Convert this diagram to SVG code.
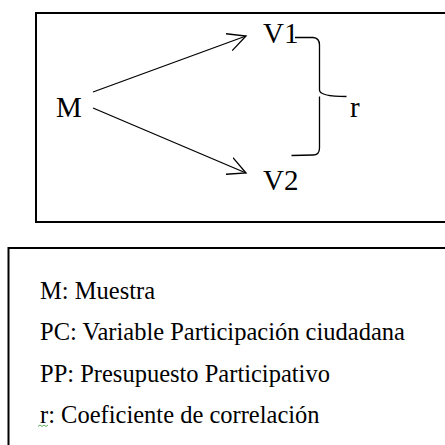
<svg xmlns="http://www.w3.org/2000/svg" width="445" height="445" viewBox="0 0 445 445">
<defs>
<style>
.box{fill:none;stroke:#000;stroke-width:2}
.ln{fill:none;stroke:#000;stroke-width:1.3}
text{fill:#000}
.lbl{font-family:"Liberation Serif",serif;font-size:29px}
.leg{font-family:"Liberation Serif",serif;font-size:24.5px}
</style>
<marker id="open" viewBox="0 0 20 20" refX="18" refY="10" markerWidth="20" markerHeight="20" markerUnits="userSpaceOnUse" orient="auto">
<path d="M0,1 L18,10 L0,19" fill="none" stroke="#000" stroke-width="1.3"/>
</marker>
</defs>
<rect class="box" x="36" y="13" width="412" height="209"/>
<rect class="box" x="8.5" y="248" width="440" height="200"/>
<g id="M"><text class="lbl" x="56" y="117">M</text></g>
<g id="V1"><text class="lbl" x="263" y="43">V1</text></g>
<g id="V2"><text class="lbl" x="263" y="190">V2</text></g>
<g id="r"><text class="lbl" x="350" y="117">r</text></g>
<g id="connectors">
<line class="ln" x1="93" y1="92" x2="246" y2="36" marker-end="url(#open)"/>
<line class="ln" x1="93" y1="108" x2="246" y2="173" marker-end="url(#open)"/>
<path class="ln" d="M295,37.5 L313,37.5 Q319.5,38 319.5,45 L319.5,90 Q319.5,96.5 346.5,96.5 M319.5,96.5 Q319.5,97 319.5,103 L319.5,148 Q319.5,155 313,155 L291.5,155.5"/>
</g>
<g id="legend">
<text class="leg" x="40" y="299">M: Muestra</text>
<text class="leg" x="40" y="340">PC: Variable Participación ciudadana</text>
<text class="leg" x="40" y="381.5">PP: Presupuesto Participativo</text>
<text class="leg" x="40" y="423">r: Coeficiente de correlación</text>
<path d="M38,426.5 l2,-1.5 l2,1.5 l2,-1.5 l2,1.5 l2,-1.5" fill="none" stroke="#3a9a3a" stroke-width="0.8"/>
</g>
</svg>
